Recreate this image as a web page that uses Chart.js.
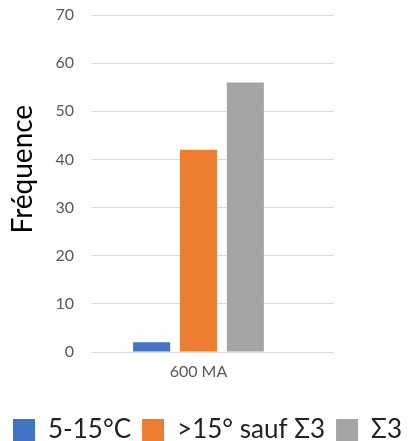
<!DOCTYPE html>
<html>
<head>
<meta charset="utf-8">
<script src="https://cdn.jsdelivr.net/npm/chart.js@4/dist/chart.umd.min.js"></script>
<style>
  html, body { margin: 0; padding: 0; background: #fff; }
  #wrap { width: 415px; height: 441px; position: relative; }
</style>
</head>
<body>
<div id="wrap"><canvas id="freqChart"></canvas></div>
<script>
// data
const categories = ['600 MA'];
const seriesNames = ['5-15°C', '>15° sauf Σ3', 'Σ3'];
const seriesColors = ['#4472C4', '#ED7D31', '#A5A5A5'];
const lowAngle = [2];
const highAngle = [42];
const sigma3 = [56];
const yTicks = [0, 10, 20, 30, 40, 50, 60, 70];

const gridColor = '#d9d9d9';
const gridRight = 333; // reference gridlines run past the plot area

// extends the y gridlines to the right like the Excel original
const extendGrid = {
    id: 'extendGrid',
    beforeDatasetsDraw(chart) {
        const { ctx, chartArea, scales } = chart;
        ctx.save();
        ctx.strokeStyle = gridColor;
        ctx.lineWidth = 1;
        yTicks.forEach(v => {
            // same pixel snapping as Chart.js uses for 1px grid lines
            const y = Math.round(scales.y.getPixelForValue(v) - 0.5) + 0.5;
            ctx.beginPath();
            ctx.moveTo(chartArea.right - 1, y);
            ctx.lineTo(gridRight, y);
            ctx.stroke();
        });
        ctx.restore();
    }
};

const allSeries = [lowAngle, highAngle, sigma3];
const datasets = allSeries.map((vals, i) => ({
    label: seriesNames[i],
    data: vals,
    backgroundColor: seriesColors[i],
    borderWidth: 0,
    categoryPercentage: 0.66,
    barPercentage: 0.79
}));

function noPad(scale) {
    scale.paddingTop = 0;
    scale.paddingBottom = 0;
}

const ctx = document.getElementById('freqChart').getContext('2d');
new Chart(ctx, {
    type: 'bar',
    data: { labels: categories, datasets: datasets },
    plugins: [extendGrid],
    options: {
        responsive: true,
        maintainAspectRatio: false,
        animation: false,
        layout: { padding: { top: 15, right: 0, bottom: -12, left: 0 } },
        plugins: {
            tooltip: { enabled: false },
            legend: {
                position: 'bottom',
                labels: {
                    boxWidth: 22,
                    boxHeight: 22,
                    padding: 11,
                    color: '#222',
                    font: { family: 'Lato', size: 26 }
                }
            }
        },
        scales: {
            x: {
                afterFit(scale) { scale.height = 54; },
                grid: { display: false },
                border: { display: false },
                ticks: {
                    color: '#595959',
                    padding: 2,
                    font: { family: 'Lato', size: 16 }
                }
            },
            y: {
                min: 0,
                max: 70,
                afterFit(scale) { scale.width = 92; noPad(scale); },
                afterBuildTicks(scale) { scale.ticks = yTicks.map(v => ({ value: v })); },
                grid: { color: gridColor, drawTicks: false },
                border: { display: false },
                ticks: {
                    color: '#595959',
                    padding: 18,
                    font: { family: 'Lato', size: 16 }
                },
                title: {
                    display: true,
                    // leading spaces lift the title a little, as in the original
                    text: '    Fréquence',
                    color: '#000',
                    padding: { top: 6, bottom: 0 },
                    font: { family: 'Lato', size: 28 }
                }
            },
            // empty right axis only reserves the blank space right of the plot
            spacer: {
                position: 'right',
                afterFit(scale) { scale.width = 110; noPad(scale); },
                grid: { display: false },
                border: { display: false },
                ticks: { display: false }
            }
        }
    }
});
</script>
</body>
</html>
